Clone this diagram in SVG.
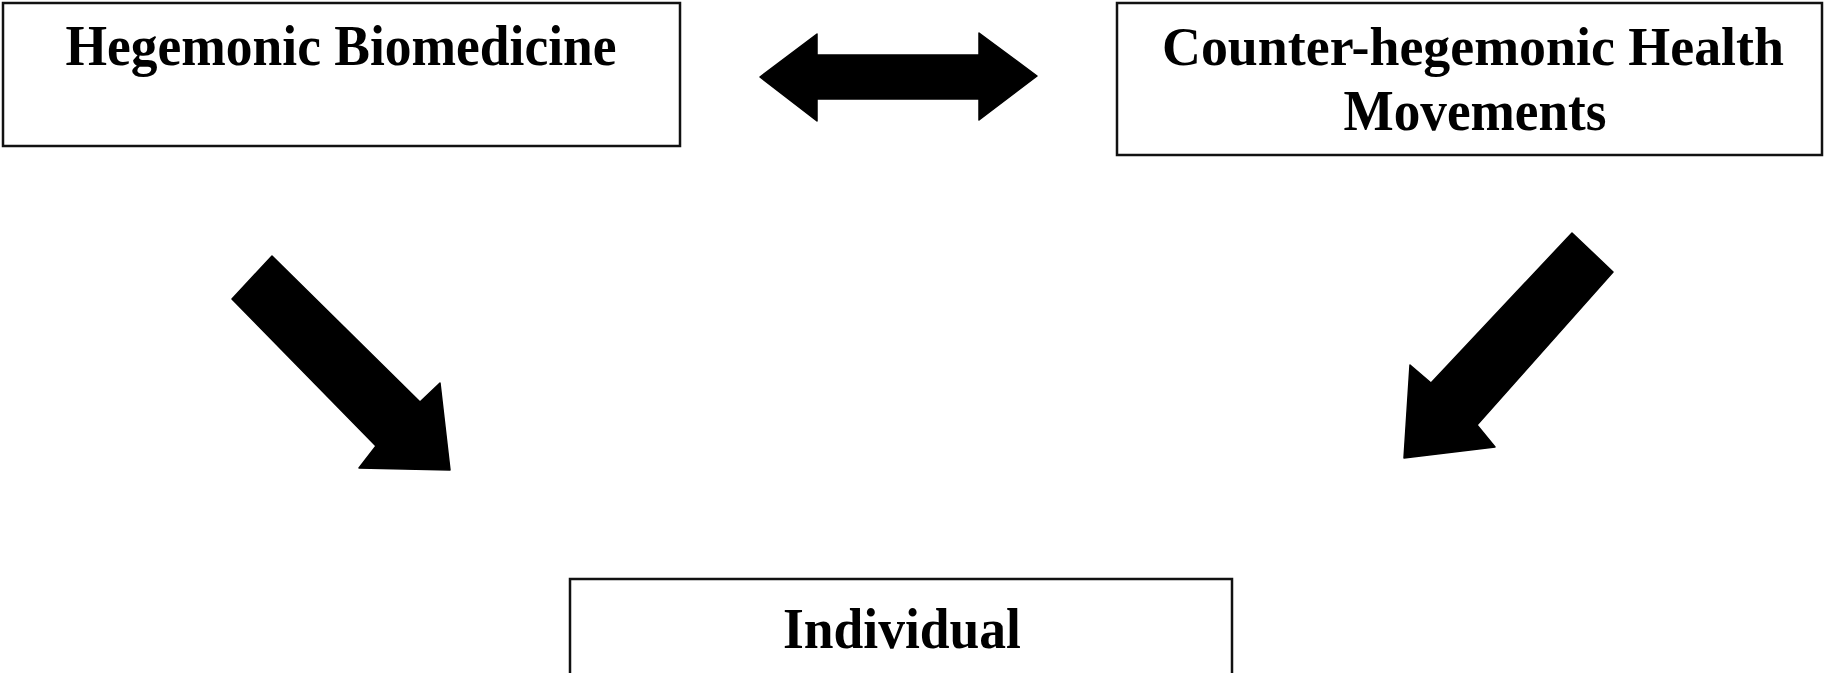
<svg xmlns="http://www.w3.org/2000/svg" width="1828" height="673" viewBox="0 0 1828 673">
<style>
.box{fill:#fff;stroke:#111;stroke-width:2.5}
.lbl{font-family:"Liberation Serif","Times New Roman",serif;font-weight:bold;font-size:58px;fill:#000;text-anchor:middle}
.sm{font-size:55px}
.arr{fill:#000;stroke:#000;stroke-width:1.5;stroke-linejoin:round}
</style>
<rect width="1828" height="673" fill="#fff"/>
<g id="node-hegemonic">
<rect class="box" x="3" y="3" width="677" height="143"/>
<text class="lbl" x="341" y="65" textLength="551" lengthAdjust="spacingAndGlyphs">Hegemonic Biomedicine</text>
</g>
<g id="node-counter">
<rect class="box" x="1117" y="3" width="705" height="152"/>
<text class="lbl sm" x="1473" y="65" textLength="622" lengthAdjust="spacingAndGlyphs">Counter-hegemonic Health</text>
<text class="lbl" x="1475" y="130" textLength="263" lengthAdjust="spacingAndGlyphs">Movements</text>
</g>
<g id="node-individual">
<rect class="box" x="570" y="579" width="662" height="96"/>
<text class="lbl" x="902" y="648" textLength="238" lengthAdjust="spacingAndGlyphs">Individual</text>
</g>
<g id="connectors">
<path class="arr" d="M760,77 L817,34 L817,55 L979,55 L979,33 L1037,76 L979,120 L979,99 L817,99 L817,121 Z"/>
<path class="arr" d="M272,256 L232,299 L376,446 L359,468 L450,470 L440,383 L420,402 Z"/>
<path class="arr" d="M1572,233 L1613,272 L1477,425 L1495,447 L1404,458 L1410,365 L1431,383 Z"/>
</g>
</svg>
